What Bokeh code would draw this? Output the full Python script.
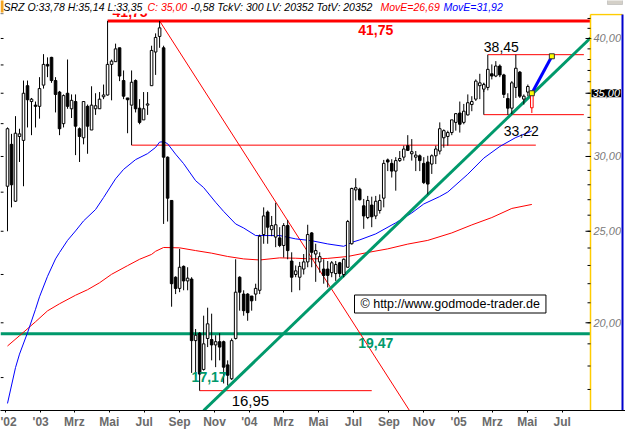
import math
import pandas as pd
from bokeh.plotting import figure
from bokeh.models import Range1d, FixedTicker, Label, BoxAnnotation
from bokeh.core.properties import value
from bokeh.embed import file_html
from bokeh.resources import INLINE

# ---------------- data (weekly candles, SRZ) ----------------
first_week = "2002-11-04"
opens = [27.90, 30.90, 26.90, 31.50, 31.20, 35.65, 34.30, 34.00, 33.90, 35.70,
         37.55, 38.20, 36.10, 35.10, 32.50, 35.00, 33.70, 34.30, 32.10, 31.40,
         33.90, 32.00, 33.70, 33.70, 34.70, 34.85, 37.55, 37.80, 39.10, 36.10,
         34.60, 34.00, 36.10, 33.75, 32.80, 34.00, 35.65, 38.70, 40.20, 39.10,
         29.95, 26.95, 22.35, 21.75, 22.95, 22.15, 22.25, 19.15, 19.50, 17.85,
         19.25, 19.20, 18.95, 19.10, 19.10, 18.05, 17.45, 19.25, 22.35, 21.45,
         21.45, 21.35, 21.45, 21.65, 24.80, 26.20, 25.10, 24.65, 24.60, 24.15,
         25.35, 23.25, 22.50, 22.35, 22.80, 23.20, 24.90, 23.65, 23.20, 22.80,
         22.80, 22.60, 22.55, 23.15, 22.50, 22.90, 24.25, 27.65, 27.70, 26.60,
         25.85, 26.65, 25.95, 26.30, 27.10, 29.75, 29.50, 28.95, 29.70, 29.95,
         30.80, 30.20, 29.95, 30.05, 29.50, 29.60, 29.45, 30.05, 30.40, 31.40,
         31.50, 31.80, 32.60, 33.35, 32.60, 33.20, 34.05, 34.50, 35.65, 35.35,
         35.50, 36.70, 36.50, 37.40, 36.60, 34.55, 33.75, 35.50, 36.85, 34.50,
         35.10, 33.78]
highs = [32.20, 31.70, 33.10, 32.10, 36.10, 36.10, 34.60, 34.30, 36.40, 38.50,
         38.20, 38.25, 36.40, 35.20, 34.90, 38.00, 34.90, 34.90, 32.20, 34.30,
         34.05, 35.60, 35.00, 35.10, 35.75, 37.85, 38.00, 39.50, 39.10, 37.00,
         34.60, 37.00, 36.20, 34.50, 35.10, 35.10, 39.30, 40.50, 41.75, 39.30,
         30.00, 26.95, 22.40, 23.95, 23.00, 22.90, 22.35, 19.70, 19.55, 20.35,
         20.75, 20.45, 19.40, 19.50, 19.15, 18.25, 19.25, 23.35, 22.40, 21.65,
         21.50, 21.35, 22.00, 24.80, 26.50, 26.30, 25.95, 26.80, 25.25, 25.50,
         25.70, 23.75, 23.00, 23.20, 23.65, 25.40, 24.95, 24.25, 23.75, 23.35,
         23.25, 23.25, 23.25, 23.20, 23.40, 25.70, 27.80, 28.45, 27.80, 27.05,
         27.25, 27.20, 27.25, 27.35, 29.75, 29.85, 29.80, 29.95, 30.40, 30.80,
         31.60, 31.30, 30.40, 30.15, 29.95, 30.05, 30.15, 30.80, 32.60, 32.05,
         31.95, 32.80, 33.35, 34.30, 34.10, 34.90, 34.75, 36.20, 36.70, 35.90,
         38.45, 37.55, 37.85, 37.55, 36.70, 35.00, 36.05, 38.45, 36.95, 34.90,
         35.75, 35.14]
lows = [25.00, 26.50, 26.85, 29.60, 27.90, 32.20, 31.60, 32.20, 32.90, 35.40,
        36.40, 35.90, 33.40, 31.60, 32.20, 33.70, 32.95, 30.10, 29.60, 30.90,
        30.20, 32.00, 33.20, 33.70, 34.50, 34.80, 34.40, 37.80, 36.05, 34.50,
        31.75, 33.90, 33.40, 32.45, 32.80, 33.20, 35.65, 36.60, 39.10, 25.45,
        25.60, 20.80, 21.45, 21.55, 21.65, 21.65, 17.70, 17.55, 16.95, 17.80,
        18.85, 18.25, 17.95, 18.25, 17.25, 17.17, 17.40, 19.20, 20.60, 20.35,
        20.10, 20.60, 21.10, 21.45, 24.25, 24.25, 24.70, 24.05, 24.05, 23.45,
        23.35, 21.55, 22.35, 21.65, 22.50, 22.90, 22.90, 22.10, 22.60, 22.00,
        21.80, 22.35, 22.15, 22.35, 22.35, 22.90, 24.20, 26.95, 26.95, 25.15,
        25.75, 25.25, 25.75, 26.10, 26.50, 28.95, 28.50, 27.60, 29.60, 29.70,
        30.40, 29.70, 28.95, 28.95, 28.05, 27.35, 28.75, 29.45, 30.15, 30.65,
        30.80, 31.60, 31.95, 31.80, 32.45, 33.15, 33.50, 34.35, 34.50, 35.10,
        35.25, 36.20, 36.40, 36.40, 34.60, 33.22, 33.25, 34.60, 34.60, 34.05,
        34.75, 33.35]
closes = [32.10, 28.00, 31.75, 31.70, 35.00, 34.45, 34.50, 33.90, 35.40, 37.55,
          37.40, 36.10, 34.90, 32.10, 34.80, 33.90, 34.40, 32.30, 31.50, 34.30,
          32.30, 34.00, 33.95, 34.50, 34.85, 37.55, 37.85, 39.00, 36.50, 34.75,
          34.45, 35.95, 33.70, 32.60, 33.70, 34.10, 38.85, 40.10, 41.05, 29.95,
          27.10, 22.00, 21.75, 22.90, 22.15, 22.30, 19.15, 19.40, 17.65, 19.00,
          19.95, 18.95, 19.10, 18.85, 17.95, 17.60, 19.15, 21.55, 21.55, 20.60,
          20.50, 21.10, 21.75, 24.70, 25.95, 25.25, 25.35, 25.40, 24.15, 25.35,
          23.85, 22.35, 22.70, 22.95, 23.20, 24.80, 23.75, 23.85, 23.50, 22.45,
          22.45, 23.15, 23.05, 22.55, 23.35, 25.60, 27.75, 27.80, 27.00, 25.95,
          26.95, 25.90, 26.90, 26.95, 29.50, 29.60, 28.95, 29.70, 29.85, 30.55,
          30.45, 30.35, 30.10, 29.70, 28.15, 28.05, 30.05, 30.55, 32.10, 31.95,
          31.80, 32.80, 33.30, 32.45, 33.50, 34.20, 34.30, 36.05, 35.90, 35.75,
          37.10, 36.50, 37.40, 36.60, 34.90, 33.75, 35.90, 37.20, 34.75, 34.75,
          35.58, 35.00]

# moving averages read at selected weeks (index into the weekly series)
blue_idx = [0, 2, 3, 5, 7, 8, 10, 12, 13, 15, 17, 19, 22, 24, 27, 29, 32, 35, 37, 38,
            39, 40, 42, 44, 47, 49, 52, 54, 57, 59, 62, 65, 68, 72, 76, 80, 84, 86, 88, 92,
            97, 101, 104, 108, 110, 115, 119, 123, 127, 131]
blue_ma = [16.43, 17.93, 18.53, 19.52, 20.67, 21.31, 22.40, 23.37, 23.74, 24.45,
           25.02, 25.64, 26.36, 27.14, 28.41, 29.07, 29.77, 30.21, 30.67, 31.07,
           31.10, 30.95, 30.17, 29.48, 28.28, 27.81, 26.83, 26.24, 25.45, 25.20,
           24.74, 24.74, 24.74, 24.54, 24.43, 24.24, 24.10, 24.33, 24.48, 24.84,
           25.52, 26.14, 26.72, 27.21, 27.51, 28.73, 29.88, 30.74, 31.42, 31.92]
red_idx = [0, 3, 7, 10, 13, 17, 20, 23, 26, 30, 33, 36, 37, 39, 43, 47, 51, 55, 59, 63,
           68, 72, 76, 80, 85, 90, 95, 100, 105, 111, 116, 121, 126, 131]
red_ma = [18.90, 19.38, 20.05, 20.59, 20.95, 21.39, 21.68, 22.05, 22.51, 22.99,
          23.35, 23.63, 23.81, 24.03, 24.01, 23.85, 23.70, 23.51, 23.37, 23.31,
          23.43, 23.41, 23.37, 23.40, 23.51, 23.74, 23.95, 24.23, 24.45, 24.90,
          25.39, 25.85, 26.43, 26.69]

# axis ticks
tick_months = ["2002-11-01", "2003-01-01", "2003-03-01", "2003-05-01", "2003-07-01",
               "2003-09-01", "2003-11-01", "2004-01-01", "2004-03-01", "2004-05-01",
               "2004-07-01", "2004-09-01", "2004-11-01", "2005-01-01", "2005-03-01",
               "2005-05-01", "2005-07-01"]
tick_labels = ["'02", "'03", "Mrz", "Mai", "Jul", "Sep", "Nov", "'04", "Mrz", "Mai",
               "Jul", "Sep", "Nov", "'05", "Mrz", "Mai", "Jul"]
price_ticks = [20, 25, 30, 35, 40]
price_labels = ["20,00", "25,00", "30,00", "35,00", "40,00"]
price_minor = list(range(17, 44))
left_ticks = [17.5, 20, 22.5, 25, 27.5, 30, 32.5, 35, 37.5, 40, 42.5]

# drawn analysis objects
level_top, level_top_from = 41.75, 25
level_mid, level_mid_from, level_mid_from_price = 30.84, 31, 33.90
level_low, level_low_from, level_low_to = 16.95, 48, 91
level_green = 19.47
box_high, box_high_from = 38.45, 120
box_low, box_low_from, box_low_from_price = 33.22, 119, 35.90
box_weeks_after_last = 13
trend_dates = ["2003-10-13", "2005-08-20"]
trend_prices = [16.15, 40.07]
resist_from_idx = 38
resist_to_date, resist_to_price = "2004-10-07", 16.15
forecast_weeks, forecast_price = 5, 38.30
header_parts = [("SRZ O:33,78 H:35,14 L:33,35", "black"), ("C: 35,00", "red"),
                ("-0,58 TckV: 300 LV: 20352 TotV: 20352", "black"),
                ("MovE=26,69", "red"), ("MovE=31,92", "blue")]

# ---------------- layout helpers ----------------
W, H = 625, 431
FH = 411                      # frame height, x axis below
PX_PER_DAY = 0.5718
X0 = -70.24
Y0, Y1 = 16.15, 43.88
origin = pd.Timestamp("2003-01-01")

def day(s):
    return (pd.Timestamp(s) - origin).days

def px2day(px):
    return X0 + px / PX_PER_DAY

def py2price(py):
    return math.exp(math.log(Y1) - py / FH * (math.log(Y1) - math.log(Y0)))

X1 = px2day(W)
XP = px2day(590)              # left edge of the price panel
XB = px2day(622)              # right edge of the price panel
P_TOP = py2price(14)

n = len(opens)
weeks = pd.date_range(first_week, periods=n, freq="7D")
xd = [(d - origin).days for d in weeks]
last = n - 1

p = figure(width=W, height=H, x_range=Range1d(X0, X1), y_range=Range1d(Y0, Y1),
           y_axis_type="log", y_axis_location=None, x_axis_location="below",
           output_backend="svg", toolbar_location=None,
           min_border_left=0, min_border_top=0, min_border_right=0,
           min_border_bottom=H - FH)
p.outline_line_color = None
p.grid.visible = False
p.background_fill_color = "white"
p.border_fill_color = "white"

# x axis
xa = p.xaxis[0]
tick_days = [day(m) for m in tick_months]
xa.ticker = FixedTicker(ticks=tick_days)
xa.major_label_overrides = dict(zip(tick_days, tick_labels))
xa.axis_line_color = "black"
xa.major_tick_line_color = "black"
xa.major_tick_in = 0
xa.major_tick_out = 2
xa.minor_tick_line_color = None
xa.major_label_standoff = 2
xa.major_label_text_font = "Liberation Sans"
xa.major_label_text_font_style = "bold"
xa.major_label_text_font_size = "12px"
xa.major_label_text_color = "#6a6a6a"

GREEN = "#00996B"
FONT = value("Liberation Sans")

# ---------------- chart content ----------------
# horizontal levels
p.segment(x0=[X0], y0=[level_green], x1=[XP], y1=[level_green], line_color=GREEN, line_width=3)
p.segment(x0=[xd[level_top_from]], y0=[level_top], x1=[XP], y1=[level_top], line_color="red", line_width=3)
p.segment(x0=[xd[level_mid_from]], y0=[level_mid], x1=[xd[last] + 7], y1=[level_mid], line_color="red", line_width=1)
p.segment(x0=[xd[level_low_from]], y0=[level_low], x1=[xd[level_low_to]], y1=[level_low], line_color="red", line_width=1)
box_end = xd[last] + 7 * box_weeks_after_last
p.segment(x0=[xd[box_high_from], xd[box_low_from]], y0=[box_high, box_low],
          x1=[box_end, box_end], y1=[box_high, box_low], line_color="red", line_width=1)
# black connectors
p.segment(x0=[xd[level_top_from], xd[level_mid_from], xd[box_low_from]],
          y0=[level_top, level_mid_from_price, box_low_from_price],
          x1=[xd[level_top_from], xd[level_mid_from], xd[box_low_from]],
          y1=[highs[level_top_from], level_mid, box_low], line_color="black", line_width=1)

# red resistance diagonal
p.segment(x0=[xd[resist_from_idx]], y0=[highs[resist_from_idx]], x1=[day(resist_to_date)],
          y1=[resist_to_price], line_color="red", line_width=1)

# moving averages
p.line([xd[i] for i in red_idx], red_ma, line_color="red", line_width=1)
p.line([xd[i] for i in blue_idx], blue_ma, line_color="blue", line_width=1)

# green uptrend line
p.line([day(d) for d in trend_dates], trend_prices, line_color=GREEN, line_width=3)

# candles
idx_all = list(range(last))
up = [i for i in idx_all if closes[i] >= opens[i]]
dn = [i for i in idx_all if closes[i] < opens[i]]
p.segment(x0=[xd[i] for i in idx_all], y0=[highs[i] for i in idx_all],
          x1=[xd[i] for i in idx_all], y1=[lows[i] for i in idx_all],
          line_color="black", line_width=1)
BW = 4.5
p.vbar(x=[xd[i] for i in up], width=BW, top=[closes[i] for i in up], bottom=[opens[i] for i in up],
       fill_color="white", line_color="black", line_width=1)
p.vbar(x=[xd[i] for i in dn], width=BW, top=[opens[i] for i in dn], bottom=[closes[i] for i in dn],
       fill_color="black", line_color="black", line_width=1)
# current week candle (red)
p.segment(x0=[xd[last]], y0=[highs[last]], x1=[xd[last]], y1=[lows[last]], line_color="red", line_width=1)
p.vbar(x=[xd[last]], width=BW, top=[max(opens[last], closes[last])], bottom=[min(opens[last], closes[last])],
       fill_color="white", line_color="red", line_width=1)

# blue forecast arrow
fx = [xd[last], xd[last] + 7 * forecast_weeks]
fy = [closes[last], forecast_price]
p.line(fx, fy, line_color="blue", line_width=3)
p.scatter(fx, fy, marker="square", size=5, fill_color="yellow", line_color="#333333", line_width=1)

# left edge ticks
p.segment(x0=[X0] * len(left_ticks), y0=left_ticks, x1=[px2day(3)] * len(left_ticks), y1=left_ticks,
          line_color="black", line_width=1)

# ---------------- price panel on the right ----------------
p.segment(x0=[XP, XP], y0=[Y0, P_TOP], x1=[XP, XB], y1=[P_TOP, P_TOP], line_color="#FFCC00", line_width=1.5)
p.segment(x0=[XB], y0=[Y0], x1=[XB], y1=[P_TOP], line_color="#0000CC", line_width=2)
p.segment(x0=[px2day(585)] * len(price_ticks), y0=price_ticks, x1=[XP] * len(price_ticks), y1=price_ticks,
          line_color="black", line_width=1)
p.segment(x0=[px2day(587)] * len(price_minor), y0=price_minor, x1=[XP] * len(price_minor), y1=price_minor,
          line_color="black", line_width=1)
p.text(x=[XP] * len(price_ticks), y=price_ticks, text=price_labels, x_offset=3,
       text_font=FONT, text_font_style="italic", text_font_size="11px", text_color="#7a7a7a",
       text_align="left", text_baseline="middle")

# ---------------- labels ----------------
def lab(x, y, text, color="black", size="14px", style="bold", align="center", baseline="middle",
        xoff=0, yoff=0, xu="data", yu="data", **kw):
    p.add_layout(Label(x=x, y=y, x_units=xu, y_units=yu, text=text, text_color=color,
                       text_font="Liberation Sans", text_font_size=size, text_font_style=style,
                       text_align=align, text_baseline=baseline, x_offset=xoff, y_offset=yoff, **kw))

# partly hidden label of the top level (covered by the header strip)
lab(xd[level_top_from], level_top, "41,75", color="red", align="left", xoff=5, yoff=9)

lab(xd[92], level_top, "41,75", color="red", yoff=-9)
lab(xd[92], level_green, "19,47", color=GREEN, yoff=-9.5)
lab(xd[55], lows[55], "17,17", color=GREEN, align="right", xoff=-1, yoff=8)
lab(xd[56], level_low, "16,95", size="15px", style="normal", align="left", yoff=-10)
lab(xd[119], box_high, "38,45", size="14px", style="normal", align="left", yoff=8)
lab(xd[124], box_low, "33,22", size="14px", style="normal", align="left", yoff=-16.5)

# copyright box
lab(354, FH - 304.5, "\u00a9 http://www.godmode-trader.de", size="12.5px", style="normal", align="left",
    xu="screen", yu="screen", background_fill_color="white", border_line_color="black",
    border_line_width=1, padding=(6, 2))

# current price marker on the price panel
lab(XP, closes[last], "35,00", color="white", size="11px", style="italic", align="left",
    xoff=1, background_fill_color="black", padding=(1, 0))

# header strip
p.add_layout(BoxAnnotation(left=0, right=W, top=FH, bottom=FH - 14, left_units="screen", right_units="screen",
                           top_units="screen", bottom_units="screen", fill_color="white", fill_alpha=1,
                           line_color=None))
p.add_layout(BoxAnnotation(left=0, right=3, top=FH, bottom=FH - 13, left_units="screen", right_units="screen",
                           top_units="screen", bottom_units="screen", fill_color="#F5A623", fill_alpha=1,
                           line_color=None))
p.add_layout(BoxAnnotation(left=607, right=622, top=FH, bottom=FH - 5, left_units="screen", right_units="screen",
                           top_units="screen", bottom_units="screen", fill_color="#D4D0C8", fill_alpha=1,
                           line_color="#808080", line_width=1))
hy = FH - 7
header_x = [3, 147, 190, 380, 443]
for (txt, col), hx in zip(header_parts, header_x):
    lab(hx, hy, txt, color=col, size="10.5px", style="italic", align="left", xu="screen", yu="screen")

open("out.html", "w").write(file_html(p, INLINE))
